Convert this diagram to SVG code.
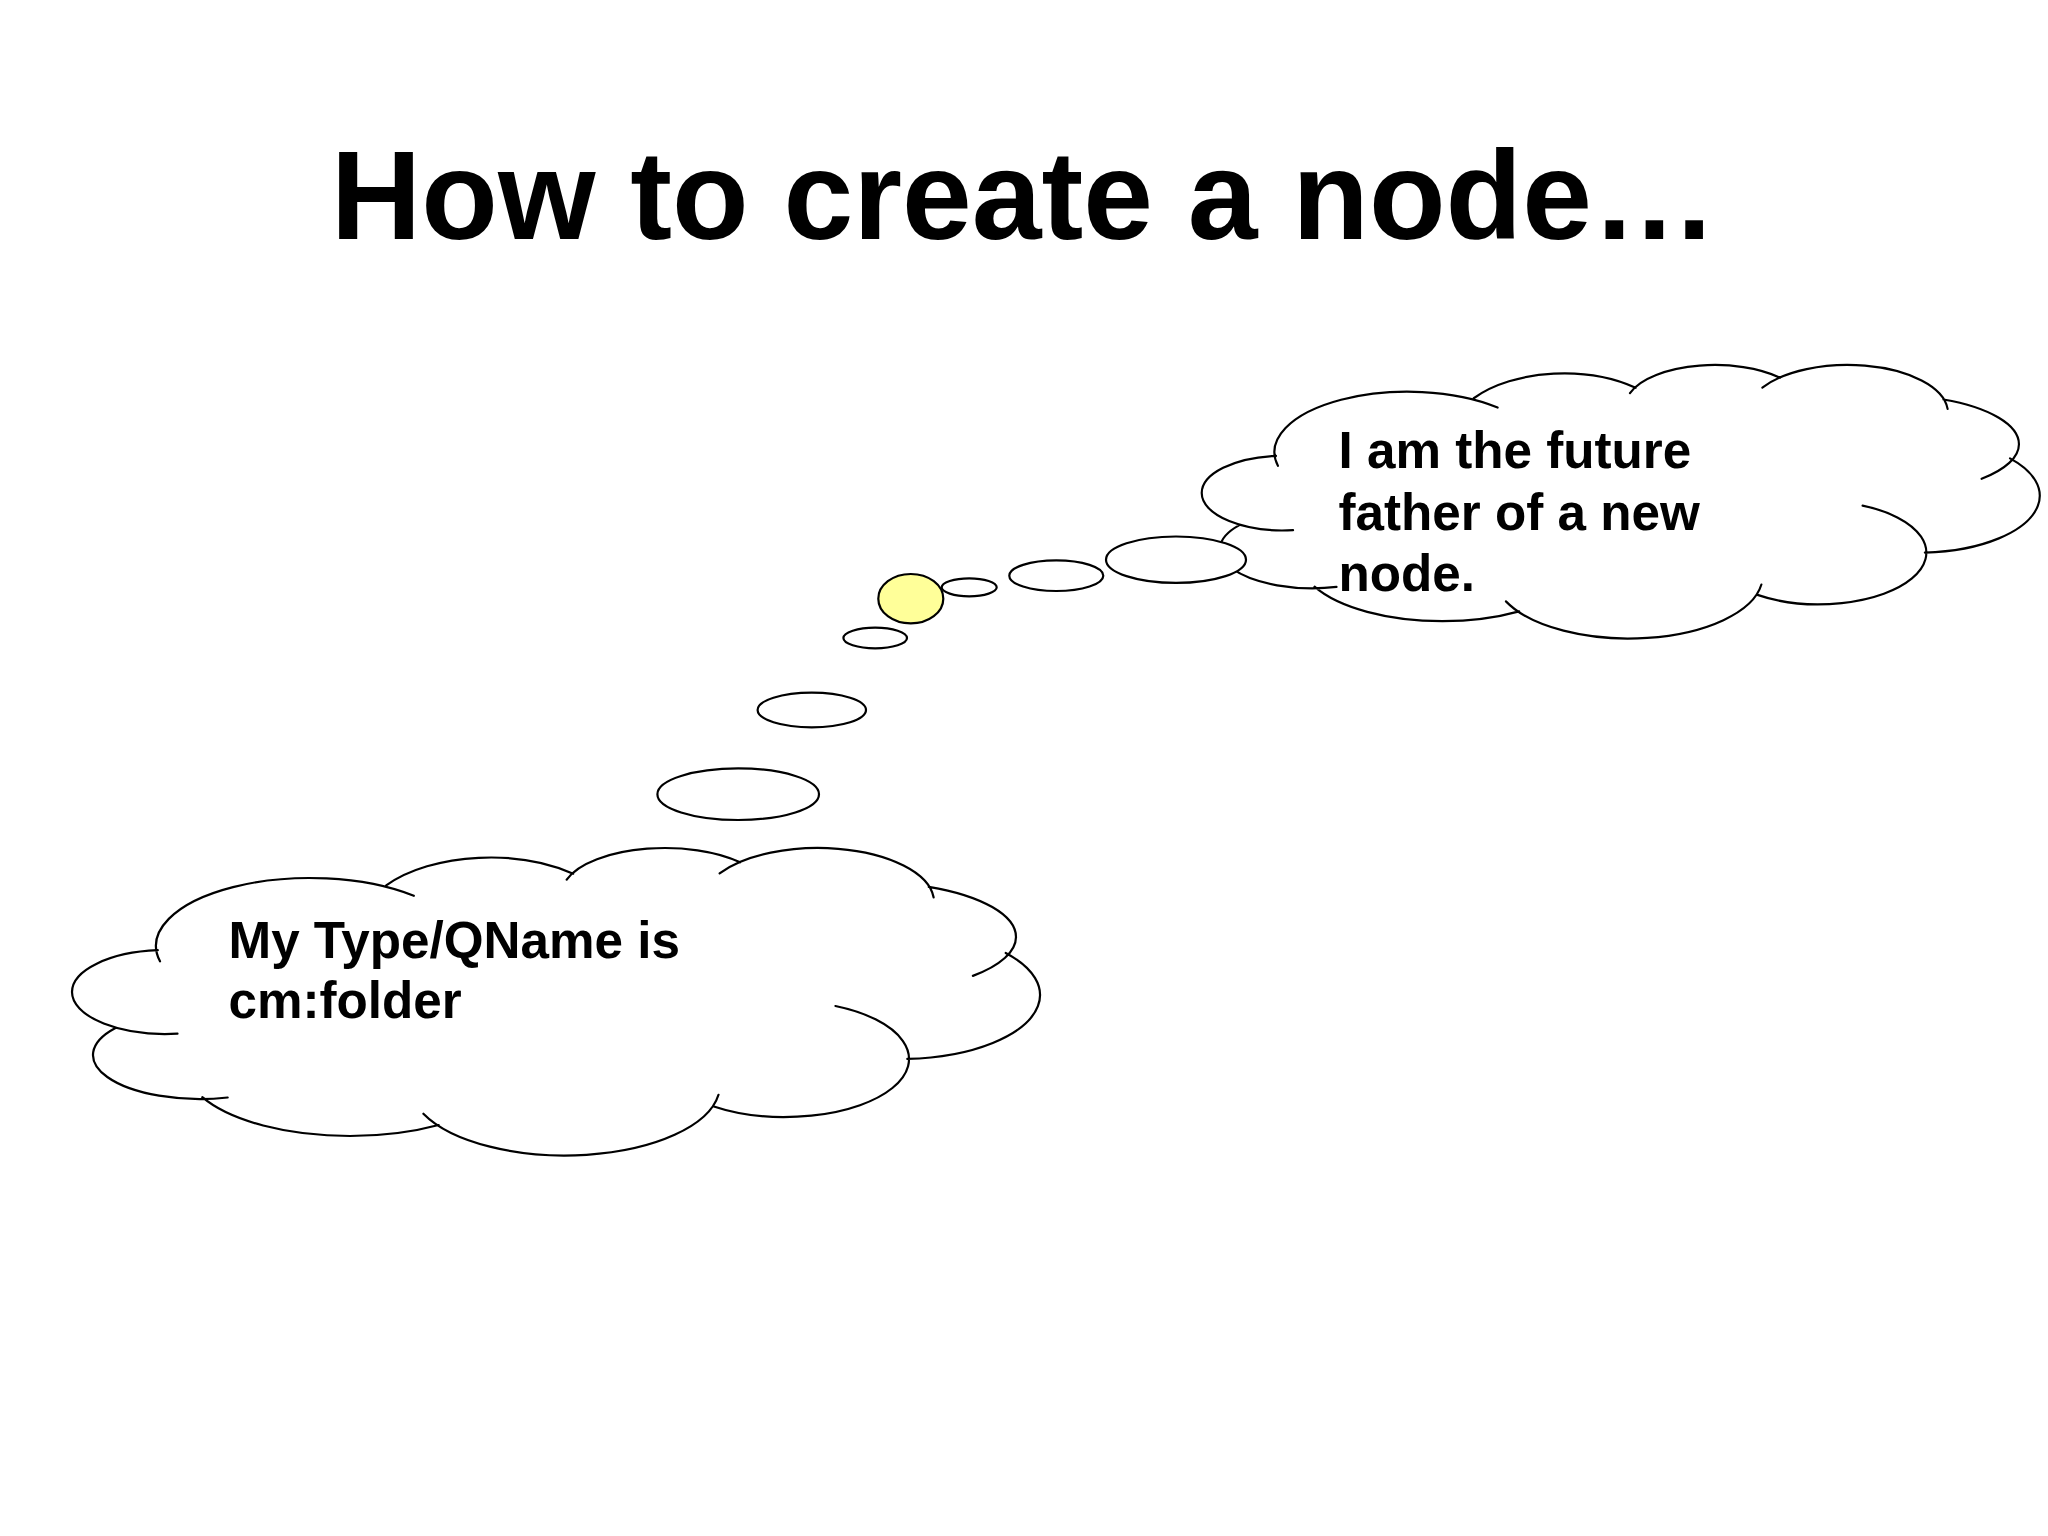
<svg xmlns="http://www.w3.org/2000/svg" xmlns:xlink="http://www.w3.org/1999/xlink" width="2048" height="1536" viewBox="0 0 2048 1536">
<defs>
<style>
.title { font-family: "Liberation Sans", Arial, sans-serif; font-weight: bold; font-size: 125.4px; fill: #000; }
.label { font-family: "Liberation Sans", Arial, sans-serif; font-weight: bold; font-size: 51.2px; fill: #000; }
.bubble { fill: #fff; stroke: #000; stroke-width: 2.2; }
.node-dot { fill: #ffff99; stroke: #000; stroke-width: 2.2; }
.cloud-fill { fill: #fff; stroke: none; }
.cloud-line { fill: none; stroke: #000; stroke-linecap: round; }
</style>
<g id="cloudShape">
<path class="cloud-fill" d="M227.7,1097.5 A107,44 0 0 1 107.3,1077 A107,44 0 0 1 115,1028.3 L177.5,1033.7 A94,42 0 0 1 72,992 A94,42 0 0 1 157.8,950.2 L160,961.3 A154,68 0 0 1 233,887.1 A154,68 0 0 1 413.8,895.8 L386.2,885.4 A130,70 0 0 1 478.7,857.8 A130,70 0 0 1 573.2,873.7 L566.7,879.6 A102.8,45 0 0 1 647.1,848.7 A102.8,45 0 0 1 740.1,862.3 L719.6,873.4 A116,54 0 0 1 838.1,848.8 A116,54 0 0 1 933.6,897.3 L928.8,886.8 A147,55 0 0 1 1016,937 A147,55 0 0 1 972.9,975.9 L1005.7,953 A140,64 0 0 1 1037.9,1006.1 A140,64 0 0 1 907.3,1058.9 L835.4,1006 A124,58 0 0 1 892.4,1088 A124,58 0 0 1 713,1106.2 L718.5,1094.8 A155,70.5 0 0 1 586.6,1154.8 A155,70.5 0 0 1 423.4,1113.7 L438.7,1125 A165,70 0 0 1 350,1136 A165,70 0 0 1 202.3,1097.2 Z"/>
<path class="cloud-line" d="M227.7,1097.5 A107,44 0 0 1 107.3,1077 A107,44 0 0 1 115,1028.3 M177.5,1033.7 A94,42 0 0 1 72,992 A94,42 0 0 1 157.8,950.2 M160,961.3 A154,68 0 0 1 233,887.1 A154,68 0 0 1 413.8,895.8 M386.2,885.4 A130,70 0 0 1 478.7,857.8 A130,70 0 0 1 573.2,873.7 M566.7,879.6 A102.8,45 0 0 1 647.1,848.7 A102.8,45 0 0 1 740.1,862.3 M719.6,873.4 A116,54 0 0 1 838.1,848.8 A116,54 0 0 1 933.6,897.3 M928.8,886.8 A147,55 0 0 1 1016,937 A147,55 0 0 1 972.9,975.9 M1005.7,953 A140,64 0 0 1 1037.9,1006.1 A140,64 0 0 1 907.3,1058.9 M835.4,1006 A124,58 0 0 1 892.4,1088 A124,58 0 0 1 713,1106.2 M718.5,1094.8 A155,70.5 0 0 1 586.6,1154.8 A155,70.5 0 0 1 423.4,1113.7 M438.7,1125 A165,70 0 0 1 350,1136 A165,70 0 0 1 202.3,1097.2"/>
</g>
</defs>
<rect x="0" y="0" width="2048" height="1536" fill="#fff"/>

<g id="title">
<text class="title" x="1024" y="239" text-anchor="middle">How to create a node…</text>
</g>

<g id="cloud-parent">
<use href="#cloudShape" xlink:href="#cloudShape" stroke-width="2.5" transform="matrix(0.8657 0 0 0.8896 1139.4 -389.4)"/>
<text class="label" x="1338.5" y="468.3">I am the future</text>
<text class="label" x="1338.5" y="529.5">father of a new</text>
<text class="label" x="1338.5" y="590.7">node.</text>
</g>

<g id="cloud-type">
<use href="#cloudShape" xlink:href="#cloudShape" stroke-width="2.2"/>
<text class="label" x="228.5" y="957.7">My Type/QName is</text>
<text class="label" x="228.5" y="1018.3">cm:folder</text>
</g>

<g id="connectors">
<g id="trail-parent">
<ellipse class="bubble" cx="1176" cy="559.7" rx="70" ry="23.2"/>
<ellipse class="bubble" cx="1056.3" cy="575.7" rx="47" ry="15.3"/>
<ellipse class="bubble" cx="969.2" cy="587.3" rx="27.5" ry="9"/>
</g>
<g id="trail-type">
<ellipse class="bubble" cx="738.2" cy="794.2" rx="80.8" ry="25.8"/>
<ellipse class="bubble" cx="811.8" cy="710" rx="54.2" ry="17.3"/>
<ellipse class="bubble" cx="875.2" cy="638" rx="31.8" ry="10.3"/>
</g>
</g>

<g id="new-node">
<ellipse class="node-dot" cx="910.8" cy="598.7" rx="32.5" ry="24.7"/>
</g>
</svg>
